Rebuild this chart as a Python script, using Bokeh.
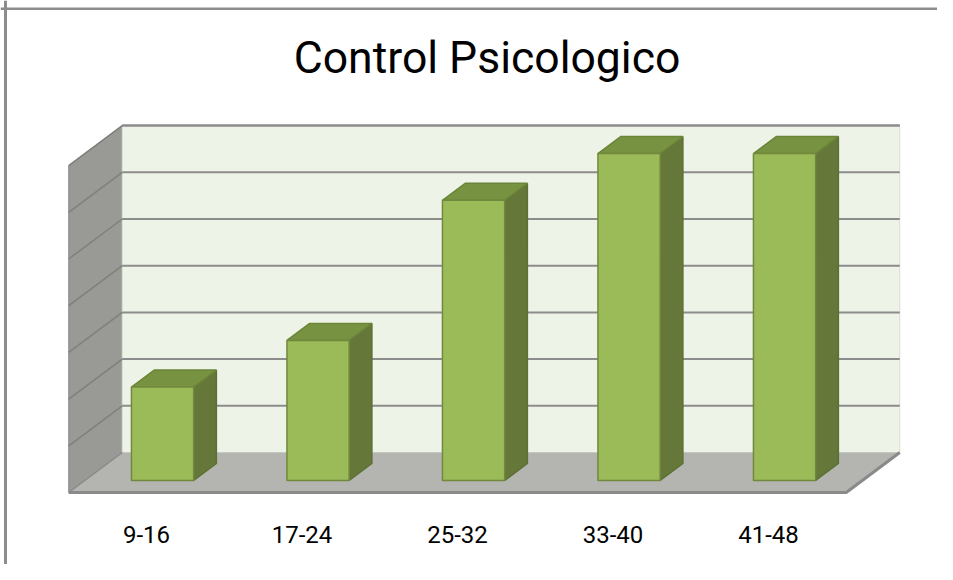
from bokeh.plotting import figure
from bokeh.models import Range1d, Label, ColumnDataSource, Span
from bokeh.core.properties import value
from bokeh.embed import file_html
from bokeh.resources import INLINE

# ---- data ----
categories = ["9-16", "17-24", "25-32", "33-40", "41-48"]
counts = [2, 3, 6, 7, 7]
grid_values = [1, 2, 3, 4, 5, 6, 7]
axis_max = 7
title_text = "Control Psicologico"

# ---- oblique 3D projection helpers (data units) ----
DX = 0.344    # category units shift for full depth
DY = 0.8565   # value units shift for full depth
C0, C1 = -0.5, len(categories) - 0.5
HALF_W = 0.2
T_FRONT, T_BACK = 0.3, 0.725


def proj(c, v, t):
    return c + t * DX, v + t * DY


def poly(pts):
    xs, ys = [], []
    for c, v, t in pts:
        x, y = proj(c, v, t)
        xs.append(x)
        ys.append(y)
    return xs, ys


p = figure(width=937, height=564,
           x_range=Range1d(-0.9389, 5.0868), y_range=Range1d(-1.542, 10.535),
           output_backend="svg", toolbar_location=None, min_border=0,
           x_axis_location=None, y_axis_location=None)
p.grid.visible = False
p.outline_line_color = None
p.background_fill_color = "white"
p.border_fill_color = "white"

# chart-area border (left and top edges visible in the reference)
p.add_layout(Span(location=-0.9068, dimension="height", line_color="#8c8c8c", line_width=3))
p.add_layout(Span(location=10.36, dimension="width", line_color="#8c8c8c", line_width=2.5))

# side wall (left)
sx, sy = poly([(C0, 0, 0), (C0, 0, 1), (C0, axis_max, 1), (C0, axis_max, 0)])
p.patch(sx, sy, fill_color="#999a96", line_color="#8a8a8a", line_width=1)

# back wall
bx, by = poly([(C0, 0, 1), (C1, 0, 1), (C1, axis_max, 1), (C0, axis_max, 1)])
p.patch(bx, by, fill_color="#eef3e8", line_color="#d9ddd4", line_width=1)
tx, ty = poly([(C0, axis_max, 1), (C1, axis_max, 1)])
p.line(tx, ty, line_color="#8c8c8c", line_width=2)

# gridlines on back wall and side wall
gx, gy, wx, wy = [], [], [], []
for g in grid_values:
    a, b = poly([(C0, g, 1), (C1, g, 1)])
    gx.append(a); gy.append(b)
    a, b = poly([(C0, g, 0), (C0, g, 1)])
    wx.append(a); wy.append(b)
p.multi_line(gx, gy, line_color="#8c8c8c", line_width=2)
p.multi_line(wx, wy, line_color="#7f807c", line_width=1.5)

# floor
fx, fy = poly([(C0, 0, 0), (C1, 0, 0), (C1, 0, 1), (C0, 0, 1)])
p.patch(fx, fy, fill_color="#b4b5b0", line_color=None)
ex, ey = poly([(C0, 0, 0), (C1, 0, 0), (C1, 0, 1)])
p.line(ex, ey, line_color="#8a8a8a", line_width=3)
lx, ly = poly([(C0, 0, 0), (C0, 0, 1)])
p.line(lx, ly, line_color="#8a8a8a", line_width=1.5)

# bars
fronts_x, fronts_y, sides_x, sides_y, tops_x, tops_y = [], [], [], [], [], []
for i, v in enumerate(counts):
    l, r = i - HALF_W, i + HALF_W
    a, b = poly([(l, 0, T_FRONT), (r, 0, T_FRONT), (r, v, T_FRONT), (l, v, T_FRONT)])
    fronts_x.append(a); fronts_y.append(b)
    a, b = poly([(r, 0, T_FRONT), (r, 0, T_BACK), (r, v, T_BACK), (r, v, T_FRONT)])
    sides_x.append(a); sides_y.append(b)
    a, b = poly([(l, v, T_FRONT), (r, v, T_FRONT), (r, v, T_BACK), (l, v, T_BACK)])
    tops_x.append(a); tops_y.append(b)

p.patches(sides_x, sides_y, fill_color="#65783a", line_color="#5d7034", line_width=1.5)
p.patches(tops_x, tops_y, fill_color="#779341", line_color="#6b8538", line_width=1.5)
p.patches(fronts_x, fronts_y, fill_color="#9bbb59", line_color="#71893f", line_width=1.5)

# category labels at the floor front edge
lab_src = ColumnDataSource(dict(x=list(range(len(categories))),
                                y=[-0.9] * len(categories),
                                text=categories))
p.text(x="x", y="y", text="text", source=lab_src, text_align="center",
       text_baseline="middle", text_font=value("Roboto"),
       text_font_size="24px", text_color="#000000")

# title
p.add_layout(Label(x=2.19, y=9.31, text=title_text, text_align="center",
                   text_baseline="alphabetic", text_font="Roboto",
                   text_font_size="44.5px", text_color="#000000"))

open("out.html", "w").write(file_html(p, INLINE))
